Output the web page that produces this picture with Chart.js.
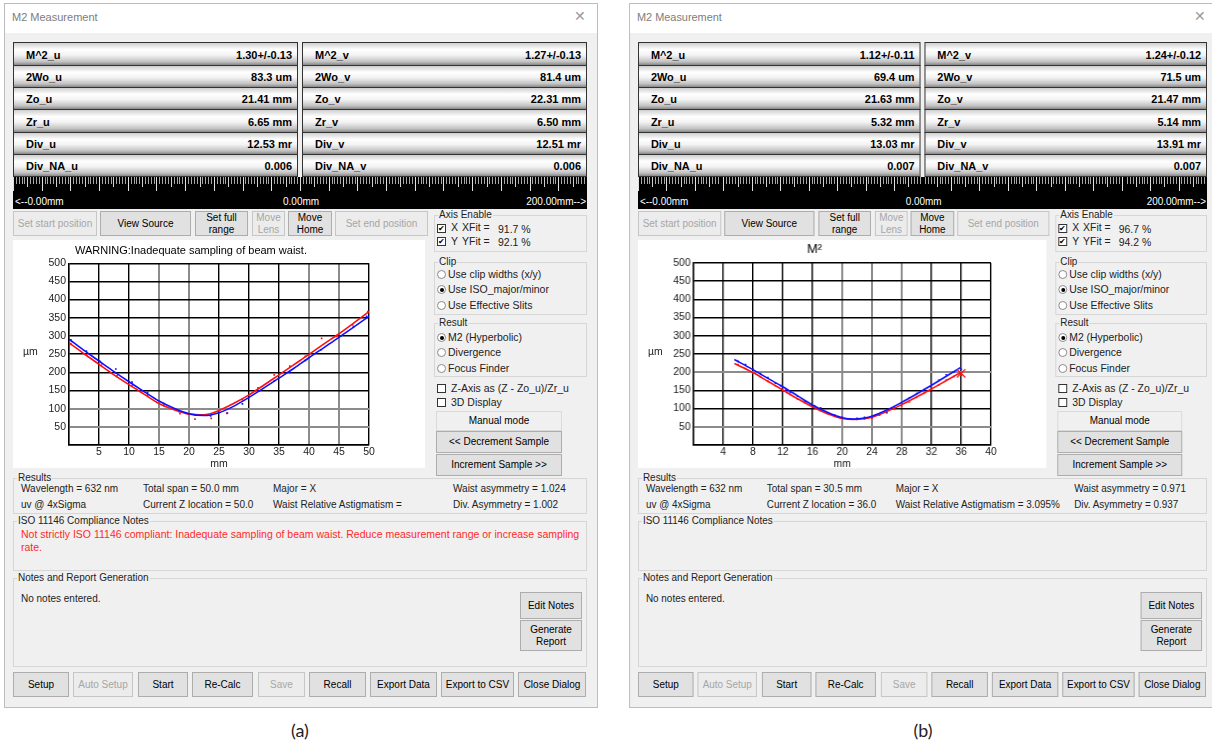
<!DOCTYPE html>
<html>
<head>
<meta charset="utf-8">
<script src="https://cdn.jsdelivr.net/npm/chart.js@4.4.1/dist/chart.umd.min.js"></script>
<style>
body{margin:0;width:1212px;height:748px;overflow:hidden;background:#fff;font-family:"Liberation Sans",Arial,sans-serif;position:relative}
.abs{position:absolute;box-sizing:border-box}
.panel{position:absolute;left:0;top:0;width:610px;height:748px}
.frame{background:#f0f0f0;border:1px solid #bdbdbd}
.tbar{background:#fff}
.cell{background:linear-gradient(#cfcfcf,#fff 30%,#f3f3f3 55%,#c2c2c2 85%,#878787);border:1px solid #333;font-weight:bold;font-size:11px;display:flex;align-items:center;justify-content:space-between;padding:1px 5px 0 12px}
.ruler{background:
 repeating-linear-gradient(90deg,#e0e0e0 0 1px,transparent 1px 28.7px) 0 0/100% 14px no-repeat,
 repeating-linear-gradient(90deg,#cfcfcf 0 1px,transparent 1px 14.35px) 0 0/100% 10px no-repeat,
 repeating-linear-gradient(90deg,#a8a8a8 0 1px,transparent 1px 2.87px) 0 0/100% 7px no-repeat,#000;color:#fff;font-size:10px}
.btn{background:#e1e1e1;border:1px solid #adadad;font-size:10px;display:flex;align-items:center;justify-content:center;text-align:center;line-height:12px;color:#000}
.dis{color:#a6a6a6;background:#ececec;border-color:#c6c6c6}
.flat{background:#f0f0f0;border:1px solid #dadada}
.grp{border:1px solid #d6d6d6}
.gl{position:absolute;top:-7px;left:3px;background:#f0f0f0;font-size:10px;padding:0 1px;line-height:12px;color:#222;white-space:nowrap}
.t{position:absolute;font-size:10px;white-space:nowrap;line-height:12px;color:#222}
.rt{font-size:10.5px}
.red{color:#ff2a2a;font-size:10.5px}
.chk{background:#fff;border:1px solid #333;font-size:8px;line-height:7px;text-align:center}
.rad{background:#fff;border:1px solid #8a8a8a;border-radius:50%}
.dot{position:absolute;left:2px;top:2px;width:4px;height:4px;border-radius:50%;background:#000}
.chart{background:#fff}
.cap{position:absolute;top:719px;font-family:Lato,"Open Sans",sans-serif;font-size:18px;color:#222}
</style>
</head>
<body>
<script>
// ---- chart (a) ----
const fitXA = [0, 2.5, 5, 7.5, 10, 12.5, 15, 17.5, 20, 22.5, 25, 27.5, 30, 32.5, 35, 37.5, 40, 42.5, 45, 47.5, 50];
const fitBlueA = [291, 260, 231, 202, 174, 147, 121, 101, 86, 81, 89, 107, 131, 157, 184, 211, 240, 268, 296, 325, 354];
const fitRedA = [281, 251, 222, 193, 166, 140, 114, 97, 85, 83, 95, 115, 138, 165, 193, 221, 249, 278, 306, 336, 367];
const ptsRedA = [[0.3,279],[2.9,248],[5.4,220],[8.0,190],[10.5,163],[13.1,137],[15.8,108],[18.5,86],[21.0,71],[23.7,73],[26.3,87],[28.9,125],[31.5,157],[34.2,193],[36.8,217],[39.4,244],[42.1,293],[44.6,299],[47.3,330],[49.8,367]];
const ptsBlueA = [[0.3,289],[2.9,258],[5.1,231],[7.8,209],[10.5,173],[13.1,145],[15.8,114],[18.4,92],[21.0,82],[23.6,80],[26.4,88],[28.9,113],[31.7,149],[34.2,176],[36.8,200],[39.4,233],[42.0,262],[45.2,300],[47.4,324],[49.6,354]];

// ---- chart (b) ----
const fitXB = [5.5, 8, 10, 12, 14, 16, 18, 20, 21.5, 23, 24, 26, 28, 30, 32, 34, 36];
const fitBlueB = [235, 207, 183, 160, 135, 110, 90, 75, 71, 74, 79, 96, 117, 140, 164, 189, 214];
const fitRedB = [224, 199, 175, 151, 127, 105, 86, 73, 70, 72, 76, 92, 111, 132, 154, 177, 200];
const ptsBlueB = [[6,230],[7,221],[8,208],[9,196],[10,185],[11,170],[11.7,163],[12.4,151],[13,145],[14,134],[15,121],[16.3,107],[17.1,102],[18,88],[19,82],[20,76],[21,72],[22,73],[23,76],[24,79],[25,84],[26,90],[27,103],[28,116],[29,129],[30,141],[31,152],[32,165],[33,178],[34,193],[35,200],[36,208]];
const ptsRedB = [[6,221],[7,210],[8,198],[9,188],[10,175],[11,163],[12,149],[13,139],[14,126],[15,116],[16,104],[17,95],[18,87],[19,80],[20,74],[21,71],[22,70],[23,72],[24,74],[25,82],[26,88],[27,98],[28,108],[29,118],[30,131],[31,142],[32,152],[33,165],[34,178],[35,188],[36,192]];
const lastRedB = [[36,197]];

const yTicks = [0, 50, 100, 150, 200, 250, 300, 350, 400, 450, 500];

// ---- dialog texts ----
const panelA = {
  cells: [["M^2_u","1.30+/-0.13","M^2_v","1.27+/-0.13"],["2Wo_u","83.3 um","2Wo_v","81.4 um"],["Zo_u","21.41 mm","Zo_v","22.31 mm"],["Zr_u","6.65 mm","Zr_v","6.50 mm"],["Div_u","12.53 mr","Div_v","12.51 mr"],["Div_NA_u","0.006","Div_NA_v","0.006"]],
  xfit: "91.7 %", yfit: "92.1 %",
  res: [["Wavelength = 632 nm","Total span = 50.0 mm","Major = X","Waist asymmetry = 1.024"],["uv @ 4xSigma","Current Z location  = 50.0","Waist Relative Astigmatism =","Div. Asymmetry = 1.002"]],
  iso: ["Not strictly ISO 11146 compliant:  Inadequate sampling of beam waist. Reduce measurement range or increase sampling","rate."],
  cap: "(a)"
};
const panelB = {
  cells: [["M^2_u","1.12+/-0.11","M^2_v","1.24+/-0.12"],["2Wo_u","69.4 um","2Wo_v","71.5 um"],["Zo_u","21.63 mm","Zo_v","21.47 mm"],["Zr_u","5.32 mm","Zr_v","5.14 mm"],["Div_u","13.03 mr","Div_v","13.91 mr"],["Div_NA_u","0.007","Div_NA_v","0.007"]],
  xfit: "96.7 %", yfit: "94.2 %",
  res: [["Wavelength = 632 nm","Total span = 30.5 mm","Major = X","Waist asymmetry = 0.971"],["uv @ 4xSigma","Current Z location  = 36.0","Waist Relative Astigmatism = 3.095%","Div. Asymmetry = 0.937"]],
  iso: [],
  cap: "(b)"
};

function box(parent, cls, x, y, w, h, html) {
  const d = document.createElement('div');
  d.className = 'abs ' + cls;
  d.style.left = x + 'px'; d.style.top = y + 'px';
  d.style.width = w + 'px'; d.style.height = h + 'px';
  if (html != null) d.innerHTML = html;
  parent.appendChild(d);
  return d;
}
function text(parent, x, yc, s, cls) {
  const d = document.createElement('div');
  d.className = 't' + (cls ? ' ' + cls : '');
  d.style.left = x + 'px'; d.style.top = (yc - 6) + 'px';
  d.textContent = s;
  parent.appendChild(d);
  return d;
}
function group(parent, x, y, w, h, label) {
  const g = box(parent, 'grp', x, y, w, h);
  const l = document.createElement('div');
  l.className = 'gl'; l.textContent = label;
  g.appendChild(l);
  return g;
}
function check(parent, x, yc, on) {
  box(parent, 'chk', x, yc - 4, 9, 9, on ? '✔' : '');
}
function radio(parent, x, yc, on) {
  const r = box(parent, 'rad', x, yc - 4, 9, 9);
  if (on) { const d = document.createElement('div'); d.className = 'dot'; r.appendChild(d); }
}

function makeChart(canvas, cfg) {
  const grid = (gray) => ({
    color: c => gray.includes(c.tick.value) ? '#8c8c8c' : '#000',
    lineWidth: c => gray.includes(c.tick.value) ? 2 : 1.4,
    drawTicks: false
  });
  const hideZero = v => v === 0 ? '' : v;
  const font = {family: '"Liberation Sans", Arial, sans-serif', size: 10.5};
  const ds = [
    {data: cfg.fitX.map((x, i) => ({x, y: cfg.fitBlue[i]})), showLine: true, borderColor: '#1010ff', borderWidth: 1.6, pointRadius: 0, cubicInterpolationMode: 'monotone'},
    {data: cfg.fitX.map((x, i) => ({x, y: cfg.fitRed[i]})), showLine: true, borderColor: '#ff1010', borderWidth: 1.6, pointRadius: 0, cubicInterpolationMode: 'monotone'},
    {data: cfg.ptsBlue.map(p => ({x: p[0], y: p[1]})), showLine: false, pointStyle: 'rect', pointRadius: 1.2, backgroundColor: '#1010ff', borderWidth: 0},
    {data: cfg.ptsRed.map(p => ({x: p[0], y: p[1]})), showLine: false, pointStyle: 'rect', pointRadius: 1.2, backgroundColor: '#ff1010', borderWidth: 0}
  ];
  if (cfg.lastRed) ds.unshift({data: cfg.lastRed.map(p => ({x: p[0], y: p[1]})), showLine: false, pointStyle: 'crossRot', pointRadius: 6, borderColor: '#ff1010', borderWidth: 1.2});
  new Chart(canvas, {
    type: 'scatter',
    data: {datasets: ds},
    options: {
      responsive: true, maintainAspectRatio: false, animation: false,
      layout: {padding: {right: 56}},
      plugins: {
        legend: {display: false}, tooltip: {enabled: false},
        title: {display: true, text: cfg.title, color: '#000', font: {family: font.family, size: cfg.titleSize, weight: 'normal'}, padding: cfg.titlePad}
      },
      scales: {
        x: {
          type: 'linear', min: 0, max: cfg.xMax,
          afterFit: s => { s.height = 23; },
          afterBuildTicks: s => { s.ticks = cfg.xTicks.map(v => ({value: v})); },
          ticks: {callback: hideZero, autoSkip: false, maxRotation: 0, padding: 1, color: '#222', font},
          grid: grid(cfg.grayX), border: {color: '#000', width: 1.4},
          title: {display: true, text: 'mm', color: '#222', font: {family: font.family, size: 10.5}, padding: {top: 0, bottom: -2}}
        },
        y: {
          type: 'linear', min: 0, max: 500,
          afterFit: s => { s.width = 56; },
          afterBuildTicks: s => { s.ticks = yTicks.map(v => ({value: v})); },
          ticks: {callback: hideZero, autoSkip: false, padding: 3, color: '#222', font},
          grid: grid(cfg.grayY), border: {color: '#000', width: 1.4}
        }
      }
    }
  });
}

function buildPanel(p, shift, sx, chartCfg) {
  const root = document.createElement('div');
  root.className = 'panel';
  root.style.transformOrigin = '13px 0';
  root.style.transform = 'translateX(' + shift + 'px) scaleX(' + sx + ')';
  document.body.appendChild(root);

  box(root, 'frame', 4, 3, 594, 705);
  box(root, 'tbar', 5, 4, 592, 29);
  text(root, 12, 17, 'M2 Measurement').style.cssText += 'font-size:11px;color:#7d7d7d';
  text(root, 574, 17, '✕').style.cssText += 'font-size:14px;color:#9a9a9a;line-height:14px;top:9px';

  // value cells
  const rows = [42, 65, 87, 109, 132, 154, 176];
  p.cells.forEach((r, i) => {
    box(root, 'cell', 13, rows[i], 285, rows[i + 1] - rows[i] + 1, '<span>' + r[0] + '</span><span>' + r[1] + '</span>');
    box(root, 'cell', 302, rows[i], 285, rows[i + 1] - rows[i] + 1, '<span>' + r[2] + '</span><span>' + r[3] + '</span>');
  });
  const ru = box(root, 'ruler', 13, 177, 574, 32);
  text(ru, 2, 25, '<--0.00mm').style.color = '#fff';
  text(ru, 270, 25, '0.00mm').style.color = '#fff';
  const rr = text(ru, 0, 25, '200.00mm-->'); rr.style.color = '#fff'; rr.style.left = 'auto'; rr.style.right = '1px';

  // top buttons
  [["Set start position",13,97,1],["View Source",100,191],["Set full<br>range",195,248],["Move<br>Lens",252,285,1],["Move<br>Home",288,332],["Set end position",335,428,1]]
    .forEach(b => box(root, 'btn' + (b[3] ? ' dis' : ''), b[1], 211, b[2] - b[1], 25, b[0]));

  // chart box
  const cb = box(root, 'chart', 13, 240, 412, 228);
  const cv = document.createElement('canvas');
  cb.appendChild(cv);
  text(cb, 10, 111, 'µm').style.fontSize = '10.5px';
  makeChart(cv, chartCfg);

  // right column
  group(root, 434, 215, 153, 37, 'Axis Enable');
  check(root, 437, 228, true); text(root, 451, 227, 'X', 'rt'); text(root, 462, 227, 'XFit =', 'rt'); text(root, 498, 229, p.xfit, 'rt');
  check(root, 437, 241, true); text(root, 451, 241, 'Y', 'rt'); text(root, 462, 241, 'YFit =', 'rt'); text(root, 498, 242, p.yfit, 'rt');
  group(root, 434, 262, 153, 53, 'Clip');
  [['Use clip widths (x/y)',274,0],['Use ISO_major/minor',289,1],['Use Effective Slits',305,0]].forEach(r => { radio(root, 437, r[1], r[2]); text(root, 448, r[1], r[0], 'rt'); });
  group(root, 434, 323, 153, 54, 'Result');
  [['M2 (Hyperbolic)',337,1],['Divergence',352,0],['Focus Finder',368,0]].forEach(r => { radio(root, 437, r[1], r[2]); text(root, 448, r[1], r[0], 'rt'); });
  check(root, 437, 388, false); text(root, 451, 388, 'Z-Axis as (Z - Zo_u)/Zr_u', 'rt');
  check(root, 437, 402, false); text(root, 451, 402, '3D Display', 'rt');
  box(root, 'btn flat', 436, 411, 126, 20, 'Manual mode');
  box(root, 'btn', 436, 431, 126, 22, '&lt;&lt; Decrement Sample');
  box(root, 'btn', 436, 454, 126, 22, 'Increment Sample &gt;&gt;');

  // results
  group(root, 13, 478, 574, 36, 'Results');
  const cx = [21, 143, 273, 453];
  p.res.forEach((r, i) => r.forEach((s, j) => text(root, cx[j], 489 + i * 16, s)));
  group(root, 13, 521, 574, 50, 'ISO 11146 Compliance Notes');
  p.iso.forEach((s, i) => text(root, 21, 534 + i * 13, s, 'red'));

  group(root, 13, 578, 574, 89, 'Notes and Report Generation');
  text(root, 21, 599, 'No notes entered.');
  box(root, 'btn', 520, 592, 62, 27, 'Edit Notes');
  box(root, 'btn', 520, 620, 62, 31, 'Generate<br>Report');

  [["Setup",13,69],["Auto Setup",73,133,1],["Start",138,188],["Re-Calc",192,253],["Save",258,305,1],["Recall",309,366],["Export Data",370,437],["Export to CSV",441,514],["Close Dialog",518,586]]
    .forEach(b => box(root, 'btn' + (b[3] ? ' dis' : ''), b[1], 672, b[2] - b[1], 25, b[0]));

  const c = document.createElement('div');
  c.className = 'cap'; c.textContent = p.cap; c.style.left = '291px';
  root.appendChild(c);
}

buildPanel(panelA, 0, 1, {
  title: 'WARNING:Inadequate sampling of beam waist.', titleSize: 11, titlePad: {top: 4, bottom: 6},
  xMax: 50, xTicks: [0, 5, 10, 15, 20, 25, 30, 35, 40, 45, 50], grayX: [15, 20, 40, 45], grayY: [50, 100],
  fitX: fitXA, fitBlue: fitBlueA, fitRed: fitRedA, ptsBlue: ptsBlueA, ptsRed: ptsRedA
});
buildPanel(panelB, 625, 0.9913, {
  title: 'M²', titleSize: 13, titlePad: {top: 2, bottom: 5.4},
  xMax: 40, xTicks: [0, 4, 8, 12, 16, 20, 24, 28, 32, 36, 40], grayX: [20, 24, 28], grayY: [50, 200],
  fitX: fitXB, fitBlue: fitBlueB, fitRed: fitRedB, ptsBlue: ptsBlueB, ptsRed: ptsRedB, lastRed: lastRedB
});
</script>
</body>
</html>
